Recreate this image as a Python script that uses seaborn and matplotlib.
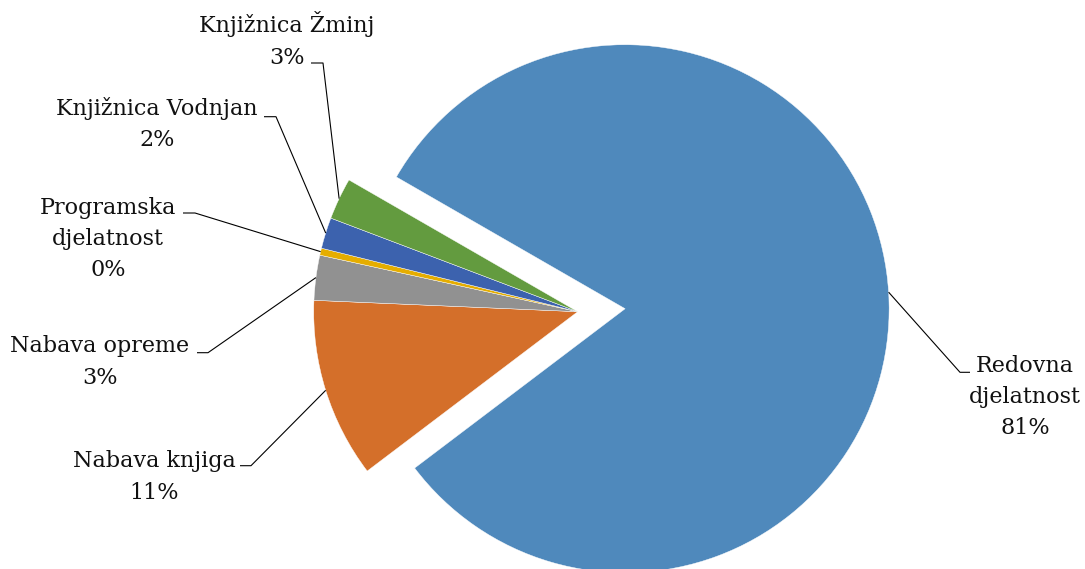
import matplotlib
matplotlib.use("Agg")
import numpy as np
import matplotlib.pyplot as plt
import seaborn as sns

# ---- data ----
categories = ["Redovna djelatnost", "Nabava knjiga", "Nabava opreme",
              "Programska djelatnost", "Knjižnica Vodnjan", "Knjižnica Žminj"]
values = [81.37, 11.0, 2.75, 0.43, 1.9, 2.55]
label_names = ["Redovna\ndjelatnost", "Nabava knjiga", "Nabava opreme",
               "Programska\ndjelatnost", "Knjižnica Vodnjan", "Knjižnica Žminj"]
colors = ["#4F89BC", "#D46F2A", "#919191", "#E5AD00", "#3C62AE", "#639B3F"]
explode = [0.18, 0, 0, 0, 0, 0]

# ---- layout (pixel positions of labels and leader-line elbows) ----
W, H = 1085, 569
CX, CY, R = 577.7, 311.7, 264.0
label_pos_px = [(1025, 397), (154, 477), (100, 362), (108, 239), (157, 124), (287, 40)]
stub_px = [((970, 372.3), (960, 372.3)),
           ((240, 465.7), (251, 465.7)),
           ((197, 352.7), (208, 352.7)),
           ((183, 213), (195, 213)),
           ((264, 116.7), (276, 116.7)),
           ((311, 63), (323, 63))]

sns.set_theme(style="white")
plt.rcParams['font.family'] = ['DejaVu Serif']


def px(x, y):
    return ((x - CX) / R, (CY - y) / R)


fig = plt.figure(figsize=(W / 100, H / 100), dpi=100)
ax = fig.add_axes([0, 0, 1, 1])
wedges, _ = ax.pie(values, colors=colors, startangle=150.06, counterclock=False,
                   explode=explode, radius=1,
                   wedgeprops=dict(linewidth=0.3, edgecolor="white"))

ax.set_xlim(-CX / R, (W - CX) / R)
ax.set_ylim((CY - H) / R, CY / R)
ax.set_aspect("auto")
ax.axis("off")

total = sum(values)
for i, w in enumerate(wedges):
    mid = np.deg2rad((w.theta1 + w.theta2) / 2)
    cx, cy = w.center
    ax_pt = (cx + w.r * np.cos(mid), cy + w.r * np.sin(mid))
    s0 = px(*stub_px[i][0])
    s1 = px(*stub_px[i][1])
    ax.plot([s0[0], s1[0], ax_pt[0]], [s0[1], s1[1], ax_pt[1]],
            color="black", lw=0.8, solid_capstyle="butt")
    pct = round(values[i] / total * 100)
    tx, ty = px(*label_pos_px[i])
    ax.text(tx, ty, f"{label_names[i]}\n{pct:.0f}%", ha="center", va="center",
            fontsize=16, color="#111111", linespacing=1.55)

fig.savefig("out.png", dpi=100)
